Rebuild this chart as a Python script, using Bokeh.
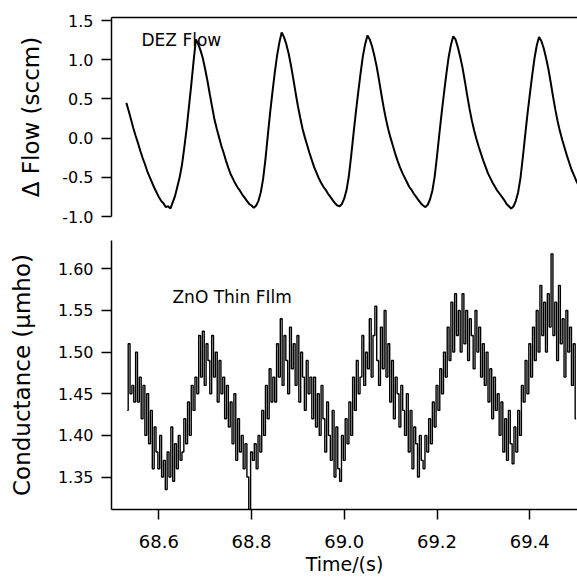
from bokeh.plotting import figure
from bokeh.layouts import column
from bokeh.models import Range1d, LinearAxis, FixedTicker, PrintfTickFormatter, Label
from bokeh.embed import file_html
from bokeh.resources import INLINE

# ---------------- data ----------------
FLOW_T0 = 68.530
FLOW_DT = 0.005
flow = [
    0.45, 0.35, 0.24, 0.13, 0.03, -0.06, -0.16, -0.25, -0.33, -0.42,
    -0.49, -0.56, -0.63, -0.69, -0.75, -0.80, -0.83, -0.88, -0.87,
    -0.90, -0.82, -0.74, -0.62, -0.50, -0.34, -0.12, 0.12, 0.40, 0.68, 0.98, 1.26,
    1.20, 1.12, 1.02, 0.88, 0.73, 0.56, 0.40, 0.24, 0.12, 0.01, -0.10, -0.19,
    -0.29, -0.38, -0.46, -0.52, -0.58, -0.63, -0.67, -0.72, -0.76, -0.80, -0.84, -0.86, -0.89,
    -0.86, -0.80, -0.69, -0.52, -0.27, 0.03, 0.32, 0.58, 0.83, 1.05, 1.22, 1.35,
    1.29, 1.20, 1.08, 0.93, 0.76, 0.58, 0.41, 0.26, 0.12, 0.01, -0.09, -0.19,
    -0.28, -0.37, -0.44, -0.51, -0.57, -0.62, -0.66, -0.71, -0.75, -0.79, -0.83, -0.86, -0.87,
    -0.84, -0.77, -0.66, -0.48, -0.22, 0.06, 0.33, 0.58, 0.82, 1.04, 1.20, 1.31,
    1.26, 1.17, 1.05, 0.91, 0.74, 0.56, 0.39, 0.24, 0.11, 0.00, -0.10, -0.20,
    -0.29, -0.37, -0.44, -0.50, -0.56, -0.62, -0.66, -0.71, -0.75, -0.79, -0.83, -0.86, -0.88,
    -0.85, -0.78, -0.67, -0.49, -0.23, 0.05, 0.32, 0.57, 0.81, 1.03, 1.19, 1.30,
    1.26, 1.16, 1.04, 0.90, 0.73, 0.55, 0.38, 0.23, 0.10, -0.01, -0.11, -0.20,
    -0.29, -0.37, -0.45, -0.51, -0.57, -0.62, -0.67, -0.71, -0.75, -0.79, -0.84, -0.87, -0.90,
    -0.87, -0.80, -0.69, -0.51, -0.25, 0.03, 0.30, 0.55, 0.79, 1.01, 1.18, 1.29,
    1.24, 1.15, 1.03, 0.89, 0.72, 0.54, 0.37, 0.22, 0.09, -0.02, -0.12, -0.22,
    -0.31, -0.40, -0.47, -0.54, -0.60,
]
flow_t = [FLOW_T0 + FLOW_DT * i for i in range(len(flow))]

COND_T0 = 68.532
COND_DT = 0.004
cond = [
    1.43, 1.51, 1.45, 1.46, 1.44, 1.50, 1.44, 1.47, 1.42, 1.46,
    1.40, 1.45, 1.39, 1.43, 1.36, 1.41, 1.38, 1.36, 1.40, 1.35,
    1.37, 1.335, 1.38, 1.35, 1.41, 1.345, 1.39, 1.36, 1.40, 1.37,
    1.38, 1.42, 1.39, 1.44, 1.40, 1.46, 1.43, 1.47, 1.45, 1.52,
    1.47, 1.525, 1.46, 1.51, 1.49, 1.45, 1.52, 1.47, 1.50, 1.44,
    1.49, 1.45, 1.47, 1.42, 1.46, 1.41, 1.44, 1.39, 1.45, 1.37,
    1.42, 1.38, 1.40, 1.36, 1.39, 1.35, 1.31, 1.38, 1.37, 1.39,
    1.36, 1.40, 1.38, 1.43, 1.40, 1.46, 1.42, 1.48, 1.44, 1.47,
    1.44, 1.51, 1.47, 1.54, 1.46, 1.52, 1.49, 1.45, 1.53, 1.48,
    1.51, 1.46, 1.52, 1.44, 1.50, 1.47, 1.43, 1.49, 1.45, 1.47,
    1.42, 1.47, 1.41, 1.45, 1.40, 1.46, 1.42, 1.38, 1.44, 1.40,
    1.37, 1.43, 1.35, 1.41, 1.36, 1.345, 1.40, 1.37, 1.42, 1.39,
    1.44, 1.40, 1.47, 1.43, 1.49, 1.45, 1.47, 1.52, 1.46, 1.50,
    1.48, 1.54, 1.47, 1.52, 1.555, 1.49, 1.46, 1.53, 1.48, 1.55,
    1.47, 1.51, 1.44, 1.49, 1.42, 1.47, 1.45, 1.41, 1.46, 1.43,
    1.40, 1.45, 1.38, 1.43, 1.36, 1.41, 1.39, 1.35, 1.40, 1.37,
    1.36, 1.40, 1.38, 1.42, 1.39, 1.44, 1.41, 1.46, 1.43, 1.48,
    1.45, 1.50, 1.47, 1.53, 1.49, 1.56, 1.50, 1.57, 1.52, 1.55,
    1.50, 1.57, 1.51, 1.55, 1.49, 1.54, 1.52, 1.48, 1.55, 1.50,
    1.53, 1.47, 1.51, 1.46, 1.50, 1.44, 1.48, 1.42, 1.47, 1.43,
    1.45, 1.40, 1.44, 1.38, 1.42, 1.37, 1.43, 1.39, 1.366, 1.41,
    1.38, 1.43, 1.40, 1.46, 1.44, 1.49, 1.45, 1.51, 1.47, 1.53,
    1.49, 1.55, 1.50, 1.58, 1.52, 1.56, 1.50, 1.57, 1.53, 1.618,
    1.52, 1.56, 1.49, 1.58, 1.51, 1.54, 1.47, 1.55, 1.50, 1.53,
    1.46, 1.51, 1.42,
]
cond_t = [COND_T0 + COND_DT * i for i in range(len(cond))]

flow_ticks = [-1.0, -0.5, 0.0, 0.5, 1.0, 1.5]
cond_ticks = [1.35, 1.40, 1.45, 1.50, 1.55, 1.60]
time_ticks = [68.6, 68.8, 69.0, 69.2, 69.4]

FONT = "DejaVu Sans"
x_range = Range1d(68.498, 69.503)


def style_axis(ax, label_size, tick_size):
    ax.axis_line_width = 1.5
    ax.axis_line_color = "black"
    ax.major_tick_line_width = 1.5
    ax.major_tick_line_color = "black"
    ax.major_tick_out = 10
    ax.major_tick_in = 0
    ax.minor_tick_line_color = None
    ax.major_label_text_font = FONT
    ax.major_label_text_font_size = tick_size
    ax.major_label_text_color = "black"
    ax.axis_label_text_font = FONT
    ax.axis_label_text_font_size = label_size
    ax.axis_label_text_font_style = "normal"
    ax.axis_label_text_color = "black"


# ---------------- top panel ----------------
top = figure(width=577, height=226, output_backend="svg", toolbar_location=None,
             x_range=x_range, y_range=Range1d(-1.0, 1.54),
             min_border_left=111, min_border_right=0, min_border_top=17, min_border_bottom=10,
             x_axis_location=None)
top.outline_line_color = None
top.xgrid.visible = False
top.ygrid.visible = False
yax = top.yaxis[0]
style_axis(yax, "23px", "16px")
yax.ticker = FixedTicker(ticks=flow_ticks)
yax.formatter = PrintfTickFormatter(format="%.1f")
yax.major_label_standoff = 8
yax.axis_label = "\u0394 Flow (sccm)"
yax.axis_label_standoff = 15

topline = LinearAxis(ticker=FixedTicker(ticks=[]), major_tick_out=0, major_tick_in=0,
                     minor_tick_out=0, minor_tick_in=0, major_label_standoff=0,
                     axis_line_width=1.5, axis_line_color="black",
                     major_tick_line_color=None, minor_tick_line_color=None)
top.add_layout(topline, "above")

top.line(flow_t, flow, line_color="black", line_width=2)
top.add_layout(Label(x=68.5627, y=1.247, text="DEZ Flow", text_font=FONT,
                     text_font_size="17px", text_color="black", text_baseline="alphabetic"))

# ---------------- bottom panel ----------------
bot = figure(width=577, height=351, output_backend="svg", toolbar_location=None,
             x_range=x_range, y_range=Range1d(1.311, 1.634),
             min_border_left=111, min_border_right=0, min_border_top=14, min_border_bottom=66)
bot.outline_line_color = None
bot.xgrid.visible = False
bot.ygrid.visible = False
ya2 = bot.yaxis[0]
style_axis(ya2, "23px", "16px")
ya2.ticker = FixedTicker(ticks=cond_ticks)
ya2.formatter = PrintfTickFormatter(format="%.2f")
ya2.major_label_standoff = 8
ya2.axis_label = "Conductance (\u00b5mho)"
ya2.axis_label_standoff = 20

xa = bot.xaxis[0]
style_axis(xa, "19px", "18px")
xa.ticker = FixedTicker(ticks=time_ticks)
xa.formatter = PrintfTickFormatter(format="%.1f")
xa.major_tick_out = 10
xa.major_label_standoff = 15
xa.axis_label = "Time/(s)"
xa.axis_label_standoff = 2

bot.step(cond_t, cond, mode="center", line_color="black", line_width=1.4)
bot.add_layout(Label(x=68.6295, y=1.5656, text="ZnO Thin FIlm", text_font=FONT,
                     text_font_size="17px", text_color="black", text_baseline="alphabetic"))

layout = column(top, bot, spacing=0)
open("out.html", "w").write(file_html(layout, INLINE))
